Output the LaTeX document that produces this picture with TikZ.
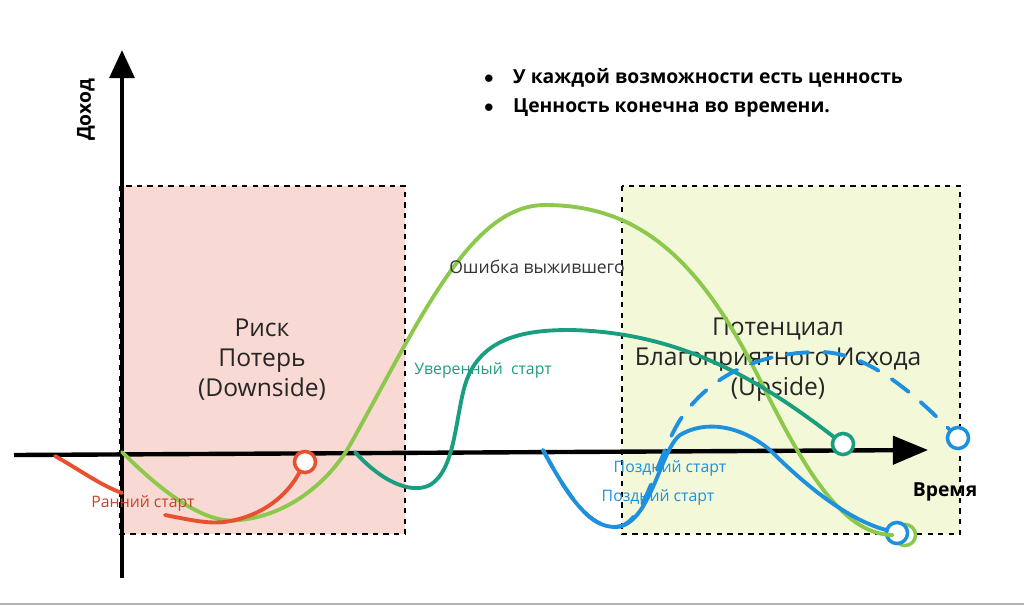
\documentclass[tikz,border=0pt]{standalone}
\usepackage{fontspec}
\setmainfont{Open Sans}
\usetikzlibrary{arrows.meta,positioning}
\definecolor{riskfill}{HTML}{F9D9D3}
\definecolor{upfill}{HTML}{F3F8D8}
\definecolor{lime}{HTML}{8CC84B}
\definecolor{early}{HTML}{E8502F}
\definecolor{sure}{HTML}{1A9E80}
\definecolor{late}{HTML}{1E90E0}
\begin{document}
\begin{tikzpicture}[x=0.02cm, y=-0.02cm,
    zone/.style={draw, dashed, thick},
    zonetext/.style={align=center, font=\fontsize{14}{17}\selectfont, text=black!85},
    curve/.style={line width=2.2pt, line cap=round},
    endmark/.style={circle, draw, line width=2pt, fill=white, inner sep=0pt, minimum size=12pt},
    tag/.style={font=\fontsize{9}{11}\selectfont}
]
    \useasboundingbox (0,0) rectangle (1024,606);
    \draw[gray!60, thick] (0,604) -- (1024,604);

    % Zones
    \draw[zone, fill=riskfill] (120,186) rectangle (405,534);
    \draw[zone, fill=upfill] (622,186) rectangle (960,534);
    \node[zonetext] (risk) at (262,360) {Риск\\Потерь\\(Downside)};
    \node[zonetext] (upside) at (778,360) {Потенциал\\Благоприятного Исхода\\(Upside)};

    % Axes
    \coordinate (yb) at (122,578);
    \coordinate (yt) at (122,50);
    \coordinate (xl) at (14,455);
    \coordinate (xr) at (928,450);
    \draw[line width=2.5pt, -{Triangle[length=16pt, width=14pt]}] (yb) -- (yt);
    \draw[line width=2.5pt, -{Triangle[length=20pt, width=16pt]}] (xl) -- (xr);
    \node[rotate=90, font=\bfseries\fontsize{11}{13}\selectfont] (income) at (86,110) {Доход};
    \node[font=\bfseries\fontsize{11}{13}\selectfont] (time) at (945,492) {Время};

    % Notes
    \node[anchor=west, font=\bfseries\fontsize{11}{13}\selectfont] (note1) at (478,78) {$\bullet$\quad У каждой возможности есть ценность};
    \node[anchor=west, font=\bfseries\fontsize{11}{13}\selectfont] (note2) at (478,108) {$\bullet$\quad Ценность конечна во времени.};

    % End marks
    \node[endmark, draw=lime] (limeend) at (905,535) {};
    \node[endmark, draw=early] (earlyend) at (305,462) {};
    \node[endmark, draw=sure] (sureend) at (843,444) {};
    \node[endmark, draw=late] (lateend) at (897,533) {};
    \node[endmark, draw=late] (dashend) at (958,438) {};

    % Survivor curve
    \draw[curve, lime] (122,452) .. controls (170,500) and (210,525) .. (240,520)
        .. controls (290,515) and (330,480) .. (350,445)
        .. controls (420,320) and (470,205) .. (545,205)
        .. controls (640,205) and (700,260) .. (760,380)
        .. controls (800,460) and (840,535) .. (limeend);
    \node[black!80] (survivor) at (537,267) {Ошибка выжившего};

    % Early start
    \draw[curve, early] (55,456) .. controls (80,470) and (100,485) .. (122,493);
    \draw[curve, early] (165,515) .. controls (200,522) and (215,525) .. (235,520)
        .. controls (270,512) and (290,490) .. (earlyend);
    \node[tag, early!85!black] (earlytag) at (143,503) {Ранний старт};

    % Confident start
    \draw[curve, sure] (355,452) .. controls (380,480) and (410,495) .. (430,485)
        .. controls (455,470) and (455,420) .. (465,385)
        .. controls (480,335) and (530,330) .. (570,330)
        .. controls (680,332) and (760,380) .. (sureend);
    \node[tag, sure] (suretag) at (483,370) {Уверенный\ \ старт};

    % Late start
    \draw[curve, late] (543,450) .. controls (570,500) and (590,527) .. (615,527)
        .. controls (650,527) and (660,450) .. (680,435)
        .. controls (705,420) and (740,425) .. (770,450)
        .. controls (810,490) and (850,520) .. (lateend);
    \draw[curve, late, dash pattern=on 12pt off 9pt] (543,450) .. controls (570,500) and (590,527) .. (615,527)
        .. controls (645,527) and (655,460) .. (680,420)
        .. controls (710,375) and (760,352) .. (820,352)
        .. controls (870,352) and (920,400) .. (dashend);
    \node[tag, late] (latetag1) at (670,468) {Поздний старт};
    \node[tag, late] (latetag2) at (658,497) {Поздний старт};
\end{tikzpicture}
\end{document}
